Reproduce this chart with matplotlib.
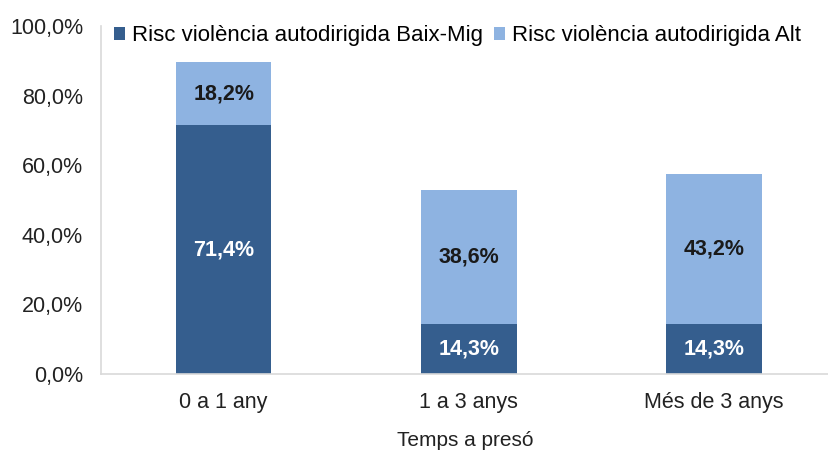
import numpy as np
import matplotlib.pyplot as plt

plt.rcParams['font.family'] = ['Liberation Sans', 'DejaVu Sans']

categories = ['0 a 1 any', '1 a 3 anys', 'Més de 3 anys']
baix_mig = [71.4, 14.3, 14.3]
alt = [18.2, 38.6, 43.2]
series_names = ['Risc violència autodirigida Baix-Mig', 'Risc violència autodirigida Alt']
yticks = [0, 20, 40, 60, 80, 100]

dark = '#355E8E'
light = '#8EB3E1'
fs = 15.5

fig = plt.figure(figsize=(8.29, 4.54), dpi=100)
ax = fig.add_axes([0.122, 0.176, 0.878, 0.767])

x = np.arange(len(categories))
w = 0.39
ax.bar(x, baix_mig, w, color=dark, label=series_names[0])
ax.bar(x, alt, w, bottom=baix_mig, color=light, label=series_names[1])

def fmt(v):
    return f'{v:.1f}%'.replace('.', ',')

for xi, v in zip(x, baix_mig):
    ax.text(xi, v / 2, fmt(v), ha='center', va='center', color='white',
            fontsize=fs, fontweight='bold')
for xi, b, v in zip(x, baix_mig, alt):
    ax.text(xi, b + v / 2, fmt(v), ha='center', va='center', color='#1a1a1a',
            fontsize=fs, fontweight='bold')

ax.set_xlim(-0.5, 2.47)
ax.set_ylim(0, 100)
ax.set_yticks(yticks)
ax.set_yticklabels([fmt(t) for t in yticks], fontsize=fs, color='#222222')
ax.set_xticks(x)
ax.set_xticklabels(categories, fontsize=fs, color='#222222')
ax.tick_params(length=0)
ax.tick_params(axis='x', pad=13)
ax.tick_params(axis='y', pad=13)

for s in ['top', 'right']:
    ax.spines[s].set_visible(False)
for s in ['left', 'bottom']:
    ax.spines[s].set_color('#d9d9d9')
    ax.spines[s].set_linewidth(1.2)

ax.set_xlabel('Temps a presó', fontsize=15, color='#222222')
ax.xaxis.set_label_coords(0.5, -0.163)

ax.legend(loc='center left', bbox_to_anchor=(0.018, 0.972), ncol=2, frameon=False,
          fontsize=16, handlelength=0.5, handleheight=0.5, handletextpad=0.3,
          columnspacing=0.5, borderaxespad=0, borderpad=0)

fig.savefig('out.png', dpi=100)
